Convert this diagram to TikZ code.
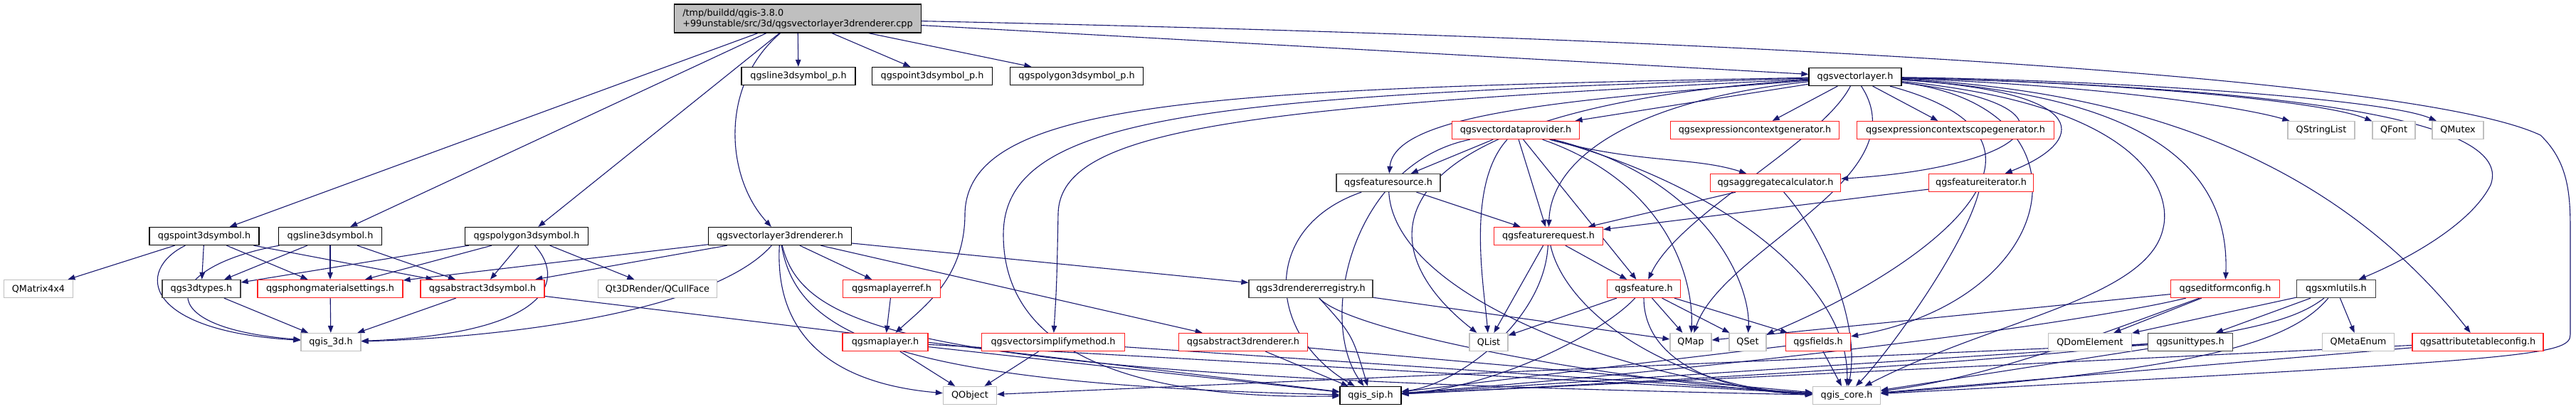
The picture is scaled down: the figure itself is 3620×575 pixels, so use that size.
\documentclass[tikz,border=0pt]{standalone}
\usepackage{fontspec}
\setmainfont{DejaVu Sans}
\usetikzlibrary{arrows.meta,backgrounds}
\definecolor{edgec}{HTML}{191970}
\definecolor{lgray}{HTML}{BFBFBF}
\definecolor{rbord}{HTML}{FF2020}
\definecolor{dgray}{HTML}{404040}
\definecolor{rootfill}{HTML}{BFBFBF}
\newcommand\nf{\fontsize{12.8}{15}\selectfont}
\tikzset{
  nb/.style={draw=black, fill=white, line width=1.3pt, minimum height=25pt, inner sep=0pt, font=\nf},
  ng/.style={nb, draw=lgray},
  nr/.style={nb, draw=rbord},
  nd/.style={nb, draw=dgray},
  dep/.style={draw=edgec, line width=1.1pt, -{Triangle[length=10pt,width=7.5pt]}},
}
\begin{document}
\begin{tikzpicture}[x=1pt,y=-1pt]
\useasboundingbox (0,0) rectangle (3620,575);
% row A
\node[nb, fill=rootfill, minimum width=347pt, minimum height=40pt, align=left] (root) at (1121,26) {/tmp/buildd/qgis-3.8.0\\+99unstable/src/3d/qgsvectorlayer3drenderer.cpp};
% row B
\node[nb, minimum width=160pt] (l3dp) at (1122,107) {qgsline3dsymbol\_p.h};
\node[nb, minimum width=169pt] (p3dp) at (1310,107) {qgspoint3dsymbol\_p.h};
\node[nb, minimum width=187pt] (poly3dp) at (1513,107) {qgspolygon3dsymbol\_p.h};
\node[nb, minimum width=130pt] (vl) at (2607,108) {qgsvectorlayer.h};
% row C
\node[nr, minimum width=179pt] (vdp) at (2130,183) {qgsvectordataprovider.h};
\node[nr, minimum width=237pt] (ecg) at (2466,183) {qgsexpressioncontextgenerator.h};
\node[nr, minimum width=277pt] (ecsg) at (2748,183) {qgsexpressioncontextscopegenerator.h};
\node[ng, minimum width=94pt] (qsl) at (3262,183) {QStringList};
\node[ng, minimum width=60pt] (qfont) at (3364,183) {QFont};
\node[ng, minimum width=72pt] (qmutex) at (3454,183) {QMutex};
% row D
\node[nd, minimum width=146pt] (fs) at (1951,257) {qgsfeaturesource.h};
\node[nr, minimum width=183pt] (agg) at (2495,257) {qgsaggregatecalculator.h};
\node[nr, minimum width=147pt] (fit) at (2784,257) {qgsfeatureiterator.h};
% row E
\node[nb, minimum width=154pt] (p3d) at (287,332) {qgspoint3dsymbol.h};
\node[nb, minimum width=145pt] (l3d) at (464,332) {qgsline3dsymbol.h};
\node[nb, minimum width=173pt] (poly3d) at (740,332) {qgspolygon3dsymbol.h};
\node[nb, minimum width=201pt] (vl3dr) at (1096,332) {qgsvectorlayer3drenderer.h};
\node[nr, minimum width=153pt] (freq) at (2176,332) {qgsfeaturerequest.h};
% row F
\node[ng, minimum width=97pt] (qm44) at (54,406) {QMatrix4x4};
\node[nd, minimum width=110pt] (t3d) at (283,406) {qgs3dtypes.h};
\node[nr, minimum width=204pt] (phong) at (464,406) {qgsphongmaterialsettings.h};
\node[nr, minimum width=174pt] (abssym) at (678,406) {qgsabstract3dsymbol.h};
\node[ng, minimum width=167pt] (cull) at (924,406) {Qt3DRender/QCullFace};
\node[nr, minimum width=137pt] (mlref) at (1253,406) {qgsmaplayerref.h};
\node[nd, minimum width=174pt] (reg) at (1842,406) {qgs3drendererregistry.h};
\node[nr, minimum width=103pt] (feat) at (2310,406) {qgsfeature.h};
\node[nr, minimum width=153pt] (efc) at (3127,406) {qgseditformconfig.h};
\node[nd, minimum width=111pt] (xml) at (3283,406) {qgsxmlutils.h};
% row G
\node[ng, minimum width=84pt] (q3d) at (465,481) {qgis\_3d.h};
\node[nr, minimum width=120pt] (ml) at (1244,481) {qgsmaplayer.h};
\node[nr, minimum width=201pt] (simp) at (1480,481) {qgsvectorsimplifymethod.h};
\node[nr, minimum width=181pt] (absr) at (1747,481) {qgsabstract3drenderer.h};
\node[ng, minimum width=54pt] (qlist) at (2092,481) {QList};
\node[ng, minimum width=58pt] (qmap) at (2376,481) {QMap};
\node[ng, minimum width=52pt] (qset) at (2456,481) {QSet};
\node[nr, minimum width=91pt] (fields) at (2555,481) {qgsfields.h};
\node[ng, minimum width=117pt] (qdom) at (2937,481) {QDomElement};
\node[nd, minimum width=119pt] (unit) at (3078,481) {qgsunittypes.h};
\node[ng, minimum width=101pt] (qme) at (3314,481) {QMetaEnum};
\node[nr, minimum width=184pt] (attr) at (3482,481) {qgsattributetableconfig.h};
% row H
\node[ng, minimum width=75pt] (qobj) at (1363,556) {QObject};
\node[nb, minimum width=86pt] (sip) at (1926,556) {qgis\_sip.h};
\node[ng, minimum width=95pt] (core) at (2595,556) {qgis\_core.h};

\begin{pgfonlayer}{background}
\fill[white] (0,0) rectangle (3620,575);
% root
\draw[dep] (root) -- (p3d);
\draw[dep] (root) -- (l3d);
\draw[dep] (root) -- (poly3d);
\draw[dep] (root) .. controls (1010,120) and (1020,250) .. (vl3dr);
\draw[dep] (root) -- (l3dp);
\draw[dep] (root) -- (p3dp);
\draw[dep] (root) -- (poly3dp);
\draw[dep] (root) -- (vl);
\draw[dep] (root) .. controls (2500,55) and (3400,110) .. (3570,190) .. controls (3612,230) and (3612,280) .. (3612,330) -- (3612,470) .. controls (3612,500) and (3560,505) .. (core);
% point / line / polygon symbols
\draw[dep] (p3d) -- (qm44);
\draw[dep] (p3d) -- (t3d);
\draw[dep] (p3d) -- (phong);
\draw[dep] (p3d) -- (abssym);
\draw[dep] (p3d) .. controls (190,380) and (200,465) .. (q3d);
\draw[dep] (l3d) .. controls (230,375) and (205,460) .. (q3d);
\draw[dep] (l3d) -- (t3d);
\draw[dep] (l3d) -- (phong);
\draw[dep] (l3d) -- (abssym);
\draw[dep] (poly3d) -- (t3d);
\draw[dep] (poly3d) -- (phong);
\draw[dep] (poly3d) -- (abssym);
\draw[dep] (poly3d) -- (cull);
\draw[dep] (poly3d) .. controls (800,400) and (760,470) .. (q3d);
\draw[dep] (t3d) -- (q3d);
\draw[dep] (phong) -- (q3d);
\draw[dep] (abssym) -- (q3d);
\draw[dep] (abssym) -- (sip);
% vector layer 3d renderer
\draw[dep] (vl3dr) -- (phong);
\draw[dep] (vl3dr) -- (abssym);
\draw[dep] (vl3dr) .. controls (1000,440) and (700,475) .. (q3d);
\draw[dep] (vl3dr) -- (mlref);
\draw[dep] (vl3dr) -- (absr);
\draw[dep] (vl3dr) -- (reg);
\draw[dep] (vl3dr) .. controls (1088,480) and (1180,540) .. (qobj);
\draw[dep] (vl3dr) .. controls (1120,470) and (1250,540) .. (sip);
\draw[dep] (vl3dr) .. controls (1130,470) and (1300,530) .. (core);
\draw[dep] (mlref) -- (ml);
\draw[dep] (ml) -- (qobj);
\draw[dep] (ml) -- (sip);
\draw[dep] (ml) -- (core);
\draw[dep] (simp) -- (qobj);
\draw[dep] (simp) -- (core);
\draw[dep] (absr) -- (sip);
\draw[dep] (absr) -- (core);
\draw[dep] (reg) .. controls (1900,470) .. (sip);
\draw[dep] (reg) .. controls (1900,470) and (2300,540) .. (core);
\draw[dep] (reg) -- (qmap);
% vector layer
\draw[dep] (vl) -- (vdp);
\draw[dep] (vl) -- (ecg);
\draw[dep] (vl) -- (ecsg);
\draw[dep] (vl) .. controls (2950,120) and (3150,150) .. (qsl);
\draw[dep] (vl) .. controls (2950,115) and (3260,140) .. (qfont);
\draw[dep] (vl) .. controls (2950,112) and (3350,138) .. (qmutex);
\draw[dep] (vl) .. controls (2200,140) and (1960,160) .. (fs);
\draw[dep] (vl) .. controls (2300,140) and (2180,220) .. (freq);
\draw[dep] (vl) .. controls (2950,150) and (2850,235) .. (agg);
\draw[dep] (vl) .. controls (2950,130) and (2930,200) .. (fit);
\draw[dep] (vl) .. controls (2560,200) and (2360,300) .. (feat);
\draw[dep] (vl) .. controls (1700,125) and (1360,140) .. (1356,300) .. controls (1356,390) and (1300,430) .. (ml);
\draw[dep] (vl) .. controls (1700,135) and (1410,160) .. (1410,330) .. controls (1410,540) and (1700,560) .. (sip);
\draw[dep] (vl) .. controls (1750,150) and (1490,180) .. (1487,300) .. controls (1485,400) .. (simp);
\draw[dep] (vl) .. controls (2950,130) and (3135,200) .. (efc);
\draw[dep] (vl) .. controls (3050,130) and (3300,250) .. (attr);
\draw[dep] (vl) .. controls (3300,125) and (3530,180) .. (3500,260) .. controls (3470,320) and (3370,370) .. (xml);
\draw[dep] (vl) .. controls (1950,150) and (1900,330) .. (qlist);
\draw[dep] (vl) .. controls (2700,250) and (2420,350) .. (qmap);
\draw[dep] (vl) .. controls (2950,200) and (2700,380) .. (qset);
\draw[dep] (vl) .. controls (2950,150) and (2900,420) .. (fields);
\draw[dep] (vl) .. controls (3030,150) and (3050,280) .. (3040,320) .. controls (3020,420) and (2800,450) .. (core);
% vector data provider
\draw[dep] (vdp) -- (fs);
\draw[dep] (vdp) -- (freq);
\draw[dep] (vdp) .. controls (2300,230) and (2380,220) .. (agg);
\draw[dep] (vdp) -- (feat);
\draw[dep] (vdp) .. controls (2060,260) and (2085,400) .. (qlist);
\draw[dep] (vdp) .. controls (2350,260) and (2380,400) .. (qmap);
\draw[dep] (vdp) .. controls (2400,250) and (2460,400) .. (qset);
\draw[dep] (vdp) .. controls (1900,230) and (1850,450) .. (sip);
\draw[dep] (vdp) .. controls (2420,260) and (2600,400) .. (core);
% feature source / aggregate / iterator
\draw[dep] (fs) -- (freq);
\draw[dep] (fs) .. controls (1770,320) and (1780,470) .. (sip);
\draw[dep] (fs) .. controls (1960,420) and (2300,540) .. (core);
\draw[dep] (agg) -- (freq);
\draw[dep] (agg) .. controls (2560,330) and (2615,450) .. (core);
\draw[dep] (fit) -- (freq);
\draw[dep] (fit) .. controls (2760,350) and (2650,500) .. (core);
% feature request / feature
\draw[dep] (freq) -- (feat);
\draw[dep] (freq) -- (qlist);
\draw[dep] (freq) .. controls (2170,450) and (2050,540) .. (sip);
\draw[dep] (freq) .. controls (2200,440) and (2350,545) .. (core);
\draw[dep] (feat) -- (qlist);
\draw[dep] (feat) -- (qmap);
\draw[dep] (feat) -- (qset);
\draw[dep] (feat) -- (fields);
\draw[dep] (feat) .. controls (2250,470) and (2100,545) .. (sip);
\draw[dep] (feat) .. controls (2310,500) and (2400,550) .. (core);
\draw[dep] (fields) -- (core);
\draw[dep] (fields) -- (sip);
% edit form / xml / unit types / attribute table
\draw[dep] (efc) -- (qdom);
\draw[dep] (efc) -- (qmap);
\draw[dep] (efc) .. controls (2900,460) and (2400,520) .. (sip);
\draw[dep] (efc) .. controls (2950,470) and (2800,530) .. (core);
\draw[dep] (xml) -- (qdom);
\draw[dep] (xml) -- (unit);
\draw[dep] (xml) -- (qme);
\draw[dep] (xml) .. controls (3200,470) and (3050,500) .. (sip);
\draw[dep] (xml) .. controls (3220,480) and (3100,520) .. (core);
\draw[dep] (unit) -- (qobj);
\draw[dep] (unit) -- (sip);
\draw[dep] (unit) -- (core);
\draw[dep] (attr) -- (sip);
\draw[dep] (attr) -- (core);
\end{pgfonlayer}
\end{tikzpicture}
\end{document}
